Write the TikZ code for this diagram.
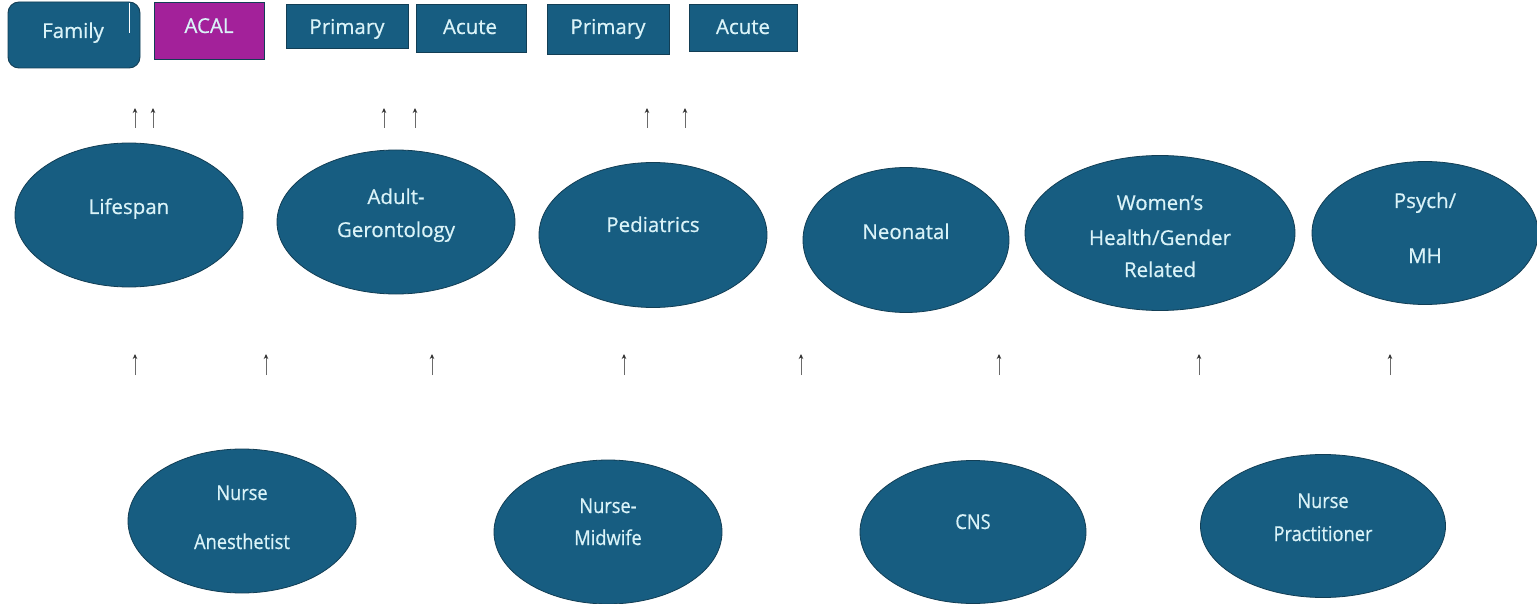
\documentclass[tikz,border=0pt]{standalone}
\usepackage{fontspec}
\setmainfont[FakeBold=0.6]{Open Sans}
\newfontfamily\narrowfont[FakeStretch=0.89,FakeBold=0.6]{Open Sans}
\usetikzlibrary{shapes.geometric,arrows.meta}
\definecolor{tealfill}{HTML}{175D81}
\definecolor{tealedge}{HTML}{123E55}
\definecolor{acalfill}{HTML}{A3219A}
\definecolor{labeltext}{HTML}{DAF3F8}
\definecolor{arrowgray}{HTML}{6A6A6A}
\tikzset{
  box/.style={draw=tealedge, line width=0.9pt, fill=tealfill, inner sep=0pt},
  oval/.style={ellipse, draw=tealedge, line width=0.8pt, fill=tealfill, inner sep=0pt},
  lbl/.style={text=labeltext, font=\fontsize{20.5}{24}\selectfont, inner sep=0pt, anchor=base},
  nlbl/.style={text=labeltext, font=\narrowfont\fontsize{20.5}{24}\selectfont, inner sep=0pt, anchor=base},
  uparrow/.style={draw=arrowgray, line width=0.9pt, -{Stealth[length=5pt,width=4.5pt,color=black!80]}}
}
\begin{document}
\begin{tikzpicture}[x=1pt,y=-1pt]
\useasboundingbox (0,0) rectangle (1537,604);
\fill[white] (0,0) rectangle (1537,604);

% top row of boxes
\draw[box, rounded corners=11pt] (8,2) rectangle (140,68);
\draw[white, line width=1pt] (129,3) -- (129,33);
\node[lbl] (family) at (73,38) {Family};
\draw[draw=tealedge, line width=0.9pt, fill=acalfill] (154,2) rectangle (264,59);
\node[lbl] (acal) at (209,33) {ACAL};
\draw[box] (286,4) rectangle (408,48);
\node[lbl] (prim1) at (347,34) {Primary};
\draw[box] (416,4) rectangle (526,52);
\node[lbl] (acute1) at (470,34) {Acute};
\draw[box] (547,4) rectangle (669,54);
\node[lbl] (prim2) at (608,34) {Primary};
\draw[box] (689,4) rectangle (797,51);
\node[lbl] (acute2) at (743,34) {Acute};

% short arrows under the boxes
\foreach \n/\x in {t1/135,t2/153,t3/384,t4/415,t5/647,t6/685}{
  \coordinate (\n a) at (\x,128);
  \coordinate (\n b) at (\x,108);
  \draw[uparrow] (\n a) -- (\n b);
}

% population foci
\node[oval, minimum width=228pt, minimum height=144pt] (life) at (129,215) {};
\node[lbl] (lifet) at (129,214) {Lifespan};
\node[oval, minimum width=238pt, minimum height=144pt] (adult) at (396,222) {};
\node[lbl] (adultt1) at (396,204) {Adult-};
\node[lbl] (adultt2) at (396,237) {Gerontology};
\node[oval, minimum width=228pt, minimum height=145pt] (ped) at (653,235) {};
\node[lbl] (pedt) at (653,232) {Pediatrics};
\node[oval, minimum width=206pt, minimum height=145pt] (neo) at (906,240) {};
\node[lbl] (neot) at (906,239) {Neonatal};
\node[oval, minimum width=270pt, minimum height=155pt] (women) at (1160,233) {};
\node[lbl] (wt1) at (1160,210) {Women’s};
\node[lbl] (wt2) at (1160,245) {Health/Gender};
\node[lbl] (wt3) at (1160,277) {Related};
\node[oval, minimum width=226pt, minimum height=143pt] (psych) at (1425,233) {};
\node[lbl] (pt1) at (1425,208) {Psych/};
\node[lbl] (pt2) at (1425,263) {MH};

% arrows between the rows
\foreach \n/\x in {m1/135,m2/266,m3/432,m4/624,m5/801,m6/999,m7/1199,m8/1390}{
  \coordinate (\n a) at (\x,375);
  \coordinate (\n b) at (\x,354);
  \draw[uparrow] (\n a) -- (\n b);
}

% APRN roles
\node[oval, minimum width=228pt, minimum height=144pt] (crna) at (242,521) {};
\node[nlbl] (crnat1) at (242,500) {Nurse};
\node[nlbl] (crnat2) at (242,549) {Anesthetist};
\node[oval, minimum width=228pt, minimum height=144pt] (cnm) at (608,532) {};
\node[nlbl] (cnmt1) at (608,513) {Nurse-};
\node[nlbl] (cnmt2) at (608,545) {Midwife};
\node[oval, minimum width=226pt, minimum height=143pt] (cns) at (973,532) {};
\node[nlbl] (cnst) at (973,529) {CNS};
\node[oval, minimum width=245pt, minimum height=143pt] (np) at (1323,526) {};
\node[nlbl] (npt1) at (1323,508) {Nurse};
\node[nlbl] (npt2) at (1323,541) {Practitioner};
\end{tikzpicture}
\end{document}
